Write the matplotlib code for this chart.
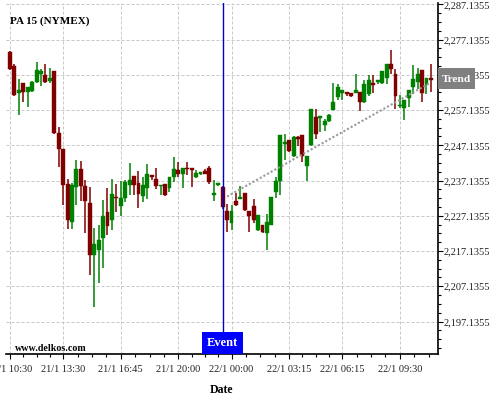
import numpy as np
import matplotlib
matplotlib.use("Agg")
import matplotlib.pyplot as plt
from matplotlib.patches import Rectangle
from matplotlib.ticker import FuncFormatter, FixedLocator
import matplotlib.transforms as mtransforms

plt.rcParams['font.family'] = ['Liberation Serif', 'DejaVu Serif']

# 15 min candles, index based x axis
opens = [2273.5, 2269.5, 2262.0, 2264.7, 2262.4, 2262.5, 2265.1, 2267.3, 2267.2, 2265.4,
         2268.1, 2250.6, 2246.1, 2236.2, 2225.5, 2235.2, 2240.4, 2235.6, 2230.8, 2215.9,
         2217.3, 2220.7, 2228.2, 2226.0, 2232.5, 2229.9, 2232.2, 2236.0, 2238.5, 2236.5,
         2232.7, 2235.1, 2238.4, 2237.5, 2235.5, 2236.1, 2235.0, 2238.1, 2240.2, 2238.9,
         2240.8, 2240.6, 2238.1, 2239.0, 2239.9, 2240.6, 2232.9, 2235.8, 2235.3, 2228.4,
         2225.0, 2231.4, 2232.0, 2233.6, 2228.5, 2229.9, 2223.2, 2224.5, 2222.2, 2224.6,
         2234.0, 2237.1, 2247.4, 2248.6, 2244.2, 2249.3, 2250.0, 2241.3, 2247.2, 2255.1,
         2255.0, 2252.8, 2254.0, 2257.1, 2260.7, 2262.1, 2262.2, 2262.0, 2262.0, 2262.4,
         2259.4, 2261.8, 2264.8, 2265.1, 2264.8, 2266.2, 2270.1, 2267.3, 2258.2, 2257.6,
         2260.6, 2263.7, 2265.1, 2268.4, 2264.5, 2266.3]
highs = [2273.8, 2270.1, 2266.0, 2264.9, 2263.7, 2265.4, 2270.9, 2268.8, 2270.1, 2269.0,
         2268.2, 2252.2, 2246.1, 2237.5, 2236.4, 2243.1, 2242.6, 2237.3, 2235.4, 2223.6,
         2224.6, 2231.5, 2235.0, 2237.5, 2236.1, 2237.1, 2237.3, 2242.0, 2238.5, 2239.7,
         2238.1, 2241.8, 2238.4, 2240.6, 2235.7, 2236.1, 2238.1, 2243.9, 2242.3, 2240.6,
         2242.3, 2240.6, 2240.1, 2239.4, 2240.3, 2241.2, 2237.3, 2236.5, 2235.5, 2230.4,
         2230.2, 2233.5, 2235.7, 2233.6, 2228.5, 2231.8, 2227.4, 2224.5, 2227.7, 2232.6,
         2238.0, 2250.0, 2250.2, 2248.6, 2249.8, 2249.9, 2250.0, 2244.1, 2257.4, 2257.3,
         2255.3, 2254.5, 2256.1, 2264.8, 2264.5, 2262.9, 2262.2, 2262.0, 2267.5, 2262.4,
         2265.8, 2267.2, 2267.2, 2265.6, 2268.1, 2270.1, 2274.3, 2268.7, 2261.5, 2259.9,
         2262.9, 2270.0, 2269.0, 2268.4, 2266.3, 2270.3]
lows = [2268.6, 2261.2, 2255.6, 2259.4, 2258.0, 2262.2, 2264.8, 2264.1, 2264.8, 2264.8,
        2250.3, 2240.9, 2230.1, 2223.5, 2223.5, 2230.1, 2231.3, 2222.2, 2210.4, 2201.3,
        2208.1, 2212.2, 2221.8, 2223.2, 2228.3, 2227.1, 2231.0, 2232.9, 2233.1, 2229.4,
        2231.0, 2231.9, 2237.3, 2234.8, 2232.9, 2232.8, 2233.9, 2236.8, 2238.1, 2235.0,
        2238.8, 2235.3, 2237.8, 2238.7, 2238.9, 2236.2, 2231.3, 2235.5, 2229.0, 2222.4,
        2223.0, 2230.0, 2231.8, 2228.6, 2222.4, 2225.0, 2222.9, 2222.2, 2217.3, 2224.4,
        2232.1, 2233.0, 2243.0, 2245.3, 2243.9, 2247.0, 2242.4, 2237.0, 2246.9, 2249.0,
        2251.0, 2251.1, 2253.8, 2257.1, 2259.9, 2259.9, 2261.2, 2260.7, 2262.0, 2256.9,
        2259.0, 2261.0, 2262.0, 2264.6, 2264.6, 2264.6, 2267.4, 2257.5, 2257.7, 2254.3,
        2258.0, 2261.8, 2263.2, 2259.4, 2261.8, 2262.3]
closes = [2268.8, 2261.5, 2262.7, 2262.3, 2263.6, 2265.2, 2268.6, 2268.1, 2265.1, 2266.1,
          2250.7, 2246.2, 2236.0, 2225.8, 2235.9, 2240.4, 2235.7, 2231.4, 2215.9, 2219.2,
          2220.3, 2227.1, 2224.1, 2233.3, 2232.1, 2232.2, 2236.6, 2237.4, 2236.0, 2233.4,
          2235.9, 2239.0, 2238.1, 2235.5, 2235.7, 2232.9, 2238.1, 2240.3, 2239.1, 2240.6,
          2240.3, 2240.2, 2239.4, 2239.4, 2239.1, 2236.6, 2233.7, 2236.5, 2229.5, 2225.8,
          2228.4, 2230.3, 2232.5, 2228.8, 2227.2, 2225.8, 2227.4, 2222.4, 2225.4, 2232.6,
          2237.1, 2250.0, 2248.1, 2245.6, 2249.6, 2248.9, 2244.2, 2244.1, 2257.4, 2250.3,
          2255.3, 2254.1, 2255.7, 2259.3, 2263.6, 2262.9, 2261.8, 2261.0, 2262.9, 2259.4,
          2264.6, 2265.7, 2264.2, 2265.6, 2268.1, 2270.1, 2268.7, 2261.1, 2258.5, 2259.9,
          2262.9, 2266.0, 2267.4, 2262.0, 2266.3, 2265.6]

tick_idx = [0, 12, 25, 38, 50, 63, 75, 88]
tick_labels = ["21/1 10:30", "21/1 13:30", "21/1 16:45", "21/1 20:00",
               "22/1 00:00", "22/1 03:15", "22/1 06:15", "22/1 09:30"]

event_idx = 48
trend_x = [49, 94.5]
trend_y = [2232.6, 2264.6]

fig = plt.figure(figsize=(5, 4), dpi=100)
ax = fig.add_axes([0.012, 0.114, 0.864, 0.8775])

up = '#008000'
down = '#800000'
x = np.arange(len(opens))
for i in x:
    o, h, l, c = opens[i], highs[i], lows[i], closes[i]
    col = up if c >= o else down
    ax.vlines(i, l, h, color=col, lw=1.1, zorder=3)
    ax.bar(i, max(abs(c - o), 0.5), bottom=min(o, c), width=0.88, color=col,
           edgecolor=col, lw=0.3, zorder=3)

ax.plot(trend_x, trend_y, color='#999999', lw=1.5, linestyle=(0, (1, 1)), zorder=4)

ax.axvline(event_idx, color='#0000cc', lw=1, zorder=5)
trans = mtransforms.blended_transform_factory(ax.transData, ax.transAxes)
ax.add_patch(Rectangle((event_idx - 4.7, 0), 9.3, 0.063, transform=trans,
                       facecolor='#0000ff', edgecolor='none', zorder=6, clip_on=False))
ax.text(event_idx, 0.032, "Event", transform=trans, color='white', fontsize=9,
        fontweight='bold', ha='center', va='center', zorder=7)

ax.set_xlim(-0.9, 96.6)
ax.set_ylim(2187.8, 2287.4)

ax.yaxis.tick_right()
ax.yaxis.set_major_locator(FixedLocator([2197.1355 + 10 * k for k in range(10)]))
ax.yaxis.set_minor_locator(FixedLocator([2187.1355 + 2.5 * k for k in range(41)]))
ax.yaxis.set_major_formatter(FuncFormatter(lambda v, p: f"{v:,.4f}"))

minor_x = []
for a, b in zip(tick_idx[:-1], tick_idx[1:]):
    minor_x += [a + (b - a) * f for f in (0.25, 0.5, 0.75)]
minor_x += [tick_idx[-1] + 3.25, tick_idx[-1] + 6.5]
ax.set_xticks(tick_idx)
ax.set_xticklabels(tick_labels)
ax.xaxis.set_minor_locator(FixedLocator(minor_x))

ax.tick_params(which='major', direction='out', length=3.6, width=0.8,
               labelsize=7.5, labelcolor='#222222')
ax.tick_params(which='minor', direction='out', length=2, width=0.8)
ax.tick_params(axis='y', pad=0.5)
ax.tick_params(axis='x', pad=4)

ax.grid(True, which='major', color='#c8c8c8', lw=0.72, linestyle=(0, (3, 2)))
ax.set_axisbelow(True)

for s in ['left', 'top']:
    ax.spines[s].set_visible(False)
ax.spines['right'].set_linewidth(1.2)
ax.spines['bottom'].set_linewidth(1.2)

ax.text(0.009, 0.941, "PA 15 (NYMEX)", transform=ax.transAxes, fontsize=8,
        fontweight='bold', va='baseline', ha='left')
ax.text(0.021, 0.01, "www.delkos.com", transform=ax.transAxes, fontsize=7.2,
        fontweight='bold', va='baseline', ha='left', zorder=7)

fig.text(221 / 500, 1 - 390 / 400, "Date", fontsize=8.5, fontweight='bold',
         ha='center', va='center')

fig.patches.append(Rectangle((438 / 500, 1 - 89.3 / 400), 37 / 500, 21.6 / 400,
                             transform=fig.transFigure, facecolor='#808080',
                             edgecolor='none', zorder=5))
fig.text(456.5 / 500, 1 - 79 / 400, "Trend", fontsize=8.2, fontweight='bold',
         color='white', ha='center', va='center', zorder=6)

fig.savefig("out.png", dpi=100)
